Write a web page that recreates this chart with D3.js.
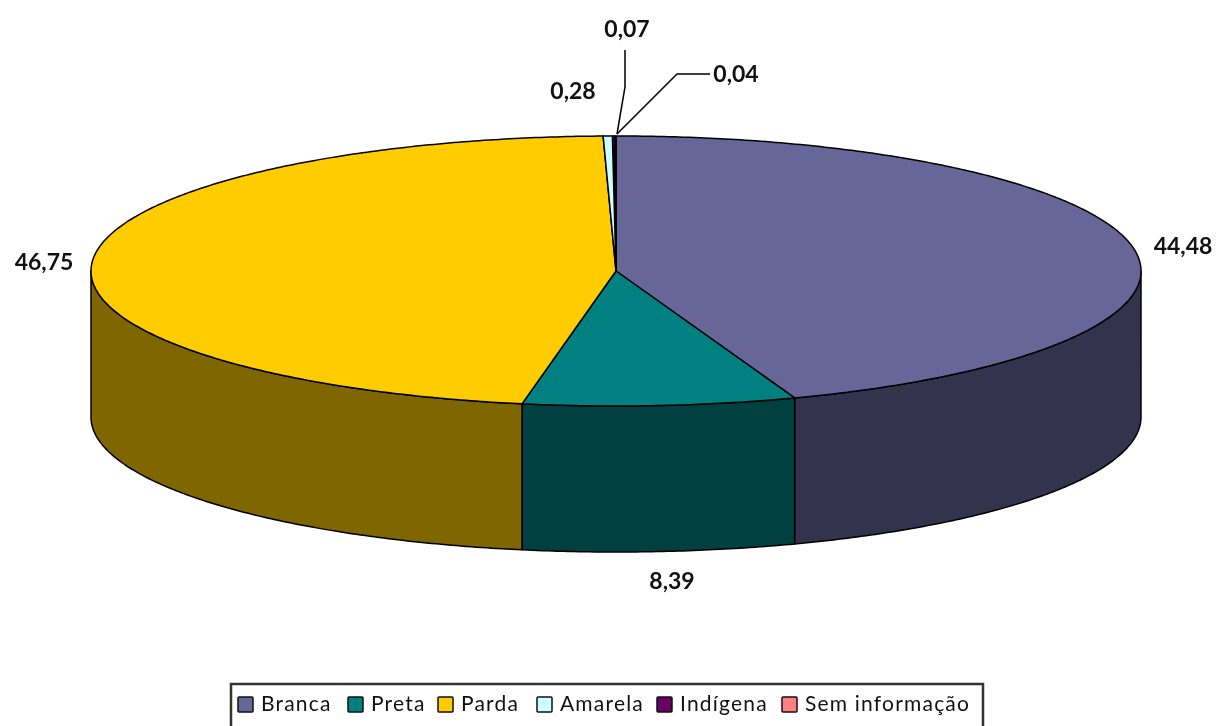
<!DOCTYPE html>
<html>
<head>
<meta charset="utf-8">
<script src="https://d3js.org/d3.v7.min.js"></script>
<style>
  html, body { margin: 0; padding: 0; background: #fff; overflow: hidden; }
  text { font-family: Lato, "Open Sans", sans-serif; fill: #111; filter: blur(0.45px); }
  .value { font-size: 23px; font-weight: 700; }
  .legend-label { font-size: 21px; letter-spacing: 1.2px; }
</style>
</head>
<body>
<svg id="chart" width="1219" height="726"></svg>
<script>
const categories = ["Branca", "Preta", "Parda", "Amarela", "Indígena", "Sem informação"];
const values = [44.48, 8.39, 46.75, 0.28, 0.07, 0.04];
const valueLabels = ["44,48", "8,39", "46,75", "0,28", "0,07", "0,04"];
const topColors = ["#666699", "#008080", "#FFCC00", "#CCFFFF", "#660066", "#FF8080"];
const sideColors = ["#33334D", "#004040", "#806600", "#668080", "#330033", "#804040"];

const svg = d3.select("#chart");
const cx = 616, cy = 271, rx = 525, ry = 135, depth = 146;

const x = d3.scaleLinear().domain([-1, 1]).range([cx - rx, cx + rx]);
const y = d3.scaleLinear().domain([-1, 1]).range([cy - ry, cy + ry]);

const pie = d3.pie().sort(null).value(d => d)(values);
const point = (a, dy = 0) => [x(Math.sin(a)), y(-Math.cos(a)) + dy];
const line = d3.line();

// points along the rim between two angles
function rim(a0, a1, dy = 0) {
  const n = Math.max(2, Math.ceil(Math.abs(a1 - a0) / 0.01));
  return d3.range(n + 1).map(i => point(a0 + (a1 - a0) * i / n, dy));
}

// side wall, only the front half of the cake shows
const sides = svg.append("g").attr("stroke", "#000").attr("stroke-width", 1.5).attr("stroke-linejoin", "round");
pie.forEach((p, i) => {
  const a0 = Math.max(p.startAngle, Math.PI / 2);
  const a1 = Math.min(p.endAngle, Math.PI * 1.5);
  if (a1 <= a0) return;
  const pts = rim(a0, a1).concat(rim(a1, a0, depth));
  sides.append("path").attr("d", line(pts) + "Z").attr("fill", sideColors[i]);
});

// top face, Amarela goes last so it sits over the two slivers
const tops = svg.append("g").attr("stroke", "#000").attr("stroke-width", 1.5).attr("stroke-linejoin", "round");
[0, 1, 2, 4, 5, 3].forEach(i => {
  const p = pie[i];
  const pts = [[cx, cy]].concat(rim(p.startAngle, p.endAngle));
  tops.append("path").attr("d", line(pts) + "Z").attr("fill", topColors[i]);
});

// leader lines of the two small slices
const leaders = svg.append("g").attr("fill", "none").attr("stroke", "#000").attr("stroke-width", 1.5);
leaders.append("path").attr("d", line([[617, 134], [625, 87], [625, 50]]));
leaders.append("path").attr("d", line([[617, 134], [677, 74], [710, 74]]));

// value labels
const labelPos = [[1183, 248], [672, 583], [44, 264], [573, 93], [627, 31], [736, 76]];
svg.append("g").selectAll("text")
  .data(valueLabels)
  .join("text")
  .attr("class", "value")
  .attr("text-anchor", "middle")
  .attr("dominant-baseline", "middle")
  .attr("x", (d, i) => labelPos[i][0])
  .attr("y", (d, i) => labelPos[i][1])
  .text(d => d);

// legend
const legendX = [238, 348, 438, 537, 657, 782];
svg.append("rect")
  .attr("x", 231).attr("y", 684).attr("width", 752).attr("height", 60)
  .attr("fill", "#fff").attr("stroke", "#333").attr("stroke-width", 2.5);
const legend = svg.append("g").selectAll("g")
  .data(categories)
  .join("g")
  .attr("transform", (d, i) => `translate(${legendX[i]},697)`);
legend.append("rect")
  .attr("width", 15).attr("height", 15).attr("rx", 1)
  .attr("fill", (d, i) => topColors[i])
  .attr("stroke", "#111").attr("stroke-width", 1.5);
legend.append("text")
  .attr("class", "legend-label")
  .attr("x", 23).attr("y", 9)
  .attr("dominant-baseline", "middle")
  .text(d => d);
</script>
</body>
</html>
